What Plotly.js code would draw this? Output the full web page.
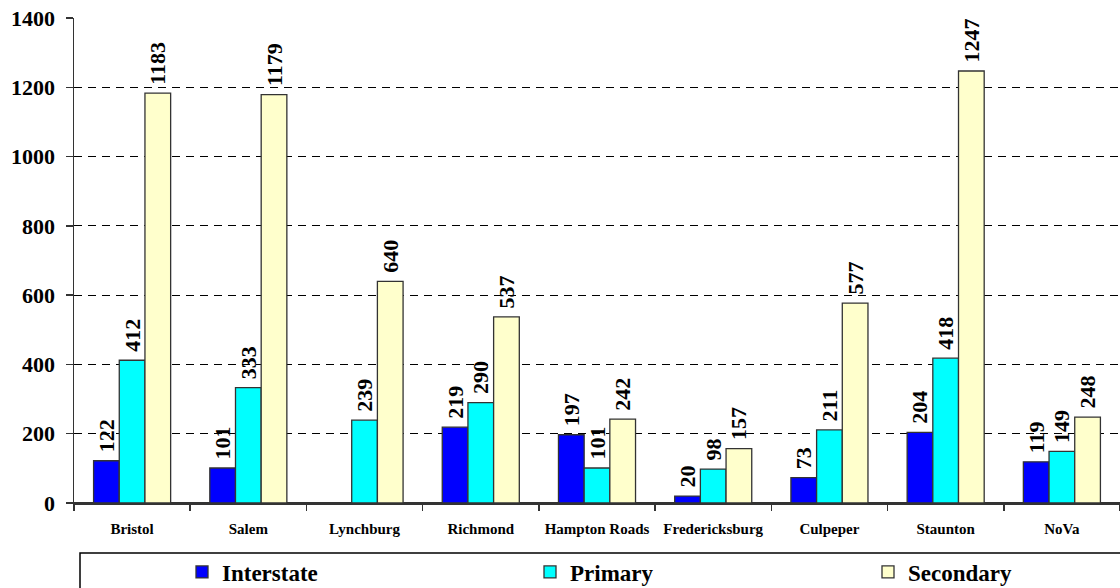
<!DOCTYPE html>
<html>
<head>
<meta charset="utf-8">
<script src="https://cdn.plot.ly/plotly-3.0.1.min.js"></script>
<style>html,body{margin:0;padding:0;background:#fff;overflow:hidden;}#chart{width:1120px;height:588px;}</style>
</head>
<body>
<div id="chart"></div>
<script>
var districts = ["Bristol", "Salem", "Lynchburg", "Richmond", "Hampton Roads", "Fredericksburg", "Culpeper", "Staunton", "NoVa"];
var interstate = [122, 101, null, 219, 197, 20, 73, 204, 119];
var primary = [412, 333, 239, 290, 101, 98, 211, 418, 149];
var secondary = [1183, 1179, 640, 537, 242, 157, 577, 1247, 248];
var yTicks = [0, 200, 400, 600, 800, 1000, 1200, 1400];

var FONT = "'Liberation Serif', 'Times New Roman', serif";
var outline = {color: "#333333", width: 1.3};

function labels(arr) { return arr.map(function (v) { return v === null ? "" : "\u00A0" + v; }); }

function barTrace(name, vals, color, legendId) {
  return {
    type: "bar", name: name, x: districts, y: vals,
    marker: {color: color, line: outline},
    text: labels(vals), textposition: "outside", textangle: -90,
    constraintext: "none", cliponaxis: false,
    textfont: {family: FONT, size: 22, weight: "bold", color: "#000"},
    hoverinfo: "x+y", legend: legendId
  };
}

var data = [
  barTrace("Interstate", interstate, "#0000FF", "legend"),
  barTrace("Primary", primary, "#00FFFF", "legend2"),
  barTrace("Secondary", secondary, "#FFFFCC", "legend3")
];

var L = 74, R = 0, T = 18, B = 85, W = 1120, H = 588;
var pw = W - L - R, ph = H - T - B;
function px(x) { return (x - L) / pw; }
function py(y) { return (H - B - y) / ph; }

function legendAt(x) {
  return {
    x: px(x), xanchor: "left", y: py(572), yanchor: "middle",
    orientation: "h", bgcolor: "rgba(0,0,0,0)", borderwidth: 0,
    itemwidth: 30, itemclick: false, itemdoubleclick: false,
    font: {family: FONT, size: 23, weight: "bold", color: "#000"}
  };
}

var layout = {
  width: W, height: H,
  margin: {l: L, r: R, t: T, b: B, pad: 0, autoexpand: false},
  font: {family: FONT, color: "#000"},
  paper_bgcolor: "#fff", plot_bgcolor: "#fff",
  barmode: "group", bargap: 0.337, bargroupgap: 0,
  showlegend: true,
  legend: legendAt(182),
  legend2: legendAt(530),
  legend3: legendAt(868),
  xaxis: {
    type: "category", showline: true, linecolor: "#333", linewidth: 1.5,
    ticks: "outside", tickson: "boundaries", ticklen: 6, tickcolor: "#333", tickwidth: 1.5,
    tickangle: 0,
    tickfont: {family: FONT, size: 15, weight: "bold", color: "#000"},
    ticklabelstandoff: 11, showgrid: false, zeroline: false, fixedrange: true
  },
  yaxis: {
    range: [0, 1400], tickvals: yTicks, ticktext: yTicks.map(String),
    showline: true, linecolor: "#333", linewidth: 1.5,
    ticks: "outside", ticklen: 7, tickcolor: "#333", tickwidth: 1.5,
    tickfont: {family: FONT, size: 22, weight: "bold", color: "#000"},
    ticklabelstandoff: 6,
    showgrid: true, gridcolor: "#000", gridwidth: 1, griddash: "8px,6px",
    zeroline: true, zerolinecolor: "#333", zerolinewidth: 1.5, fixedrange: true
  },
  shapes: [{
    type: "rect", xref: "paper", yref: "paper",
    x0: px(80), x1: px(1125), y0: py(553), y1: py(595),
    line: {color: "#000", width: 1.5}, fillcolor: "rgba(0,0,0,0)", layer: "below"
  }]
};

Plotly.newPlot("chart", data, layout, {displayModeBar: false, staticPlot: true});
</script>
</body>
</html>
